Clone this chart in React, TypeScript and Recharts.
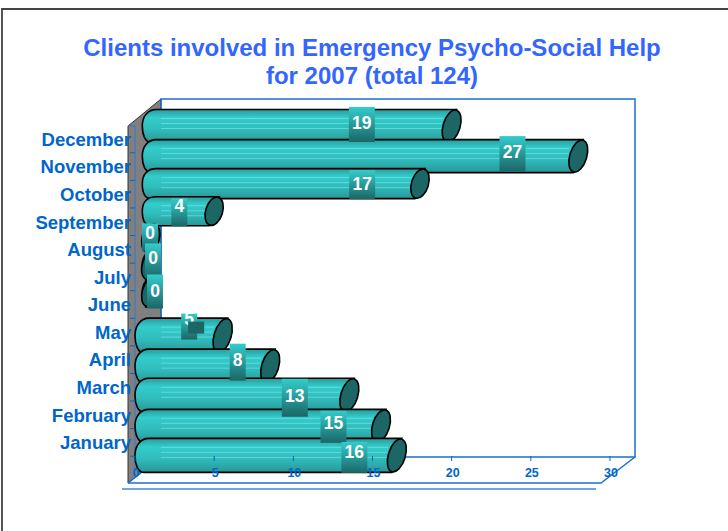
import React from 'react';
import { BarChart, Bar, XAxis, YAxis, LabelList } from 'recharts';

const months = [
  'December', 'November', 'October', 'September', 'August', 'July',
  'June', 'May', 'April', 'March', 'February', 'January',
];
const clients = [19, 27, 17, 4, 0, 0, 0, 5, 8, 13, 15, 16];
const xTicks = [0, 5, 10, 15, 20, 25, 30];

const data = months.map((month, i) => ({ month, clients: clients[i] }));

// value badges do not sit at a regular spot on the bars: [dx from bar end, dy from band top, height, text centre]
const badges = [
  [-74, -3, 35, 16], [-50, -4, 35, 16], [-42, 0, 29, 14], [-19, -2, 28, 8],
  [15, -7, 28, 10], [18, -17, 35, 15], [20, -16, 34, 16], [-25, -7, 26, 5],
  [-24, -7, 37, 16], [-46, -2, 38, 17], [-39, 0, 32, 12], [-34, 1, 31, 10],
];
// the rows of the original are not evenly spaced: [dy, height change]
const rowFit = [
  [0, 0], [0, 0], [-1, -3], [-3, -4], [-6, -4], [-10, -3], [-13, -3],
  [-2, 2], [-1, 1], [-2, 1], [-1, 0], [-2, 1],
];

const BLUE = '#0066cc';
const FONT = '"Liberation Sans", Arial, sans-serif';

function Cylinder({ x, y, width, height, index }: any) {
  // top seven bars start further right than the bottom five
  const x0 = x + (index <= 6 ? 7.3 : 0);
  const [dy, dh] = rowFit[index];
  const top = y + dy - 0.5;
  const bottom = y + dy + height + dh + 2.5;
  const mid = (top + bottom) / 2;
  const half = (bottom - top) / 2;
  const cx = x0 + width + 8.5;
  const body = `M${x0 + 14},${top} L${cx + 5},${top} L${cx - 5},${bottom} L${x0 + 9},${bottom}
    C${x0 + 3},${bottom} ${x0},${mid + 9} ${x0},${mid}
    C${x0},${mid - 9} ${x0 + 5},${top} ${x0 + 14},${top} Z`;
  const stripeEnd = cx - 9;
  return (
    <g>
      <path d={body} fill="url(#tube)" stroke="#000" strokeWidth={1.6} />
      {width > 30 && (
        <g stroke="#8ceaea" strokeWidth={1} opacity={0.55}>
          <line x1={161} x2={stripeEnd} y1={top + 9} y2={top + 9} />
          <line x1={161} x2={stripeEnd} y1={top + 14} y2={top + 14} />
          <line x1={161} x2={stripeEnd} y1={top + 19} y2={top + 19} />
        </g>
      )}
      <ellipse
        cx={cx}
        cy={mid}
        rx={8.5}
        ry={half}
        fill="#1c6666"
        stroke="#000"
        strokeWidth={1.6}
        transform={`rotate(17 ${cx} ${mid})`}
      />
    </g>
  );
}

function Badge({ x, y, width, value, index }: any) {
  const [dx, dy, h, textMid] = badges[index];
  const w = String(value).length > 1 ? 26 : 16;
  const cx = x + width + dx;
  const boxTop = y + dy;
  return (
    <g>
      <rect x={cx - w / 2} y={boxTop} width={w} height={h} fill="url(#badge)" />
      <text
        x={cx}
        y={boxTop + textMid + 6}
        textAnchor="middle"
        fill="#fff"
        fontFamily={FONT}
        fontWeight="bold"
        fontSize={17.5}
      >
        {value}
      </text>
      {months[index] === 'May' && (
        <rect x={cx - 1} y={boxTop + 8} width={16} height={12} fill="#1c6666" />
      )}
    </g>
  );
}

function MonthTick({ x, y, payload }: any) {
  return (
    <text
      x={x + 3}
      y={y - 7}
      textAnchor="end"
      fill={BLUE}
      fontFamily={FONT}
      fontWeight="bold"
      fontSize={18.5}
    >
      {payload.value}
    </text>
  );
}

function ValueTick({ x, y, payload }: any) {
  return (
    <g>
      <line x1={x} x2={x} y1={y - 15} y2={y - 10} stroke={BLUE} />
      <text
        x={x + 1}
        y={y + 6}
        textAnchor="middle"
        fill={BLUE}
        fontFamily={FONT}
        fontWeight="bold"
        fontSize={12.5}
      >
        {payload.value}
      </text>
    </g>
  );
}

export default function App() {
  return (
    <div style={{ position: 'absolute', left: 0, top: 0, width: 728, height: 531, overflow: 'hidden', background: '#fff' }}>
      <div style={{ position: 'absolute', left: 1, top: 8, width: 730, height: 530, borderLeft: '2px solid #555', borderTop: '2px solid #444' }} />
      <BarChart
        width={728}
        height={531}
        data={data}
        layout="vertical"
        barCategoryGap={0}
        margin={{ top: 110, right: 118, bottom: 59, left: 35 }}
        style={{ position: 'absolute', left: 0, top: 0 }}
      >
        <defs>
          <linearGradient id="tube" x1="0" y1="0" x2="0" y2="1">
            <stop offset="0" stopColor="#2a9c9c" />
            <stop offset="0.25" stopColor="#33cccc" />
            <stop offset="0.6" stopColor="#30bcbc" />
            <stop offset="1" stopColor="#299696" />
          </linearGradient>
          <linearGradient id="badge" x1="0" y1="0" x2="0" y2="1">
            <stop offset="0" stopColor="#33cccc" />
            <stop offset="1" stopColor="#1c6666" />
          </linearGradient>
        </defs>

        <text x={372} y={56} textAnchor="middle" fill="#3366ff" fontFamily={FONT} fontWeight="bold" fontSize={24}>
          Clients involved in Emergency Psycho-Social Help
        </text>
        <text x={372} y={84} textAnchor="middle" fill="#3366ff" fontFamily={FONT} fontWeight="bold" fontSize={24}>
          for 2007 (total 124)
        </text>

        {/* 3D box behind the bars */}
        <polygon points="128,126 161,99 161,457 128,483" fill="#808080" stroke="#333" strokeWidth={1} />
        <polyline points="161,457 161,99 635,99 635,457 161,457" fill="none" stroke="#1a6fcf" strokeWidth={1.5} />
        <polyline points="128,483 601,483 635,457" fill="none" stroke="#1a6fcf" strokeWidth={1.5} />
        <line x1={128} y1={483} x2={142} y2={472} stroke="#1a6fcf" strokeWidth={1.5} />
        <line x1={122} y1={489} x2={596} y2={489} stroke="#6ea6e4" strokeWidth={2} />
        <polyline points="128,126 135,126 135,470" fill="none" stroke="#3377cc" strokeWidth={1} />

        <Bar dataKey="clients" yAxisId="bars" shape={<Cylinder />} isAnimationActive={false}>
          <LabelList dataKey="clients" content={<Badge />} />
        </Bar>

        <XAxis
          type="number"
          domain={[0, 30]}
          ticks={xTicks}
          axisLine={false}
          tickLine={false}
          tickSize={0}
          tickMargin={0}
          height={1}
          tick={<ValueTick />}
        />
        <YAxis yAxisId="bars" type="category" dataKey="month" hide width={0} />
        <YAxis
          yAxisId="months"
          type="category"
          dataKey="month"
          width={100}
          interval={0}
          tickSize={5}
          padding={{ top: 29, bottom: 1 }}
          axisLine={false}
          tickLine={{ stroke: BLUE }}
          tick={<MonthTick />}
        />
      </BarChart>
    </div>
  );
}
